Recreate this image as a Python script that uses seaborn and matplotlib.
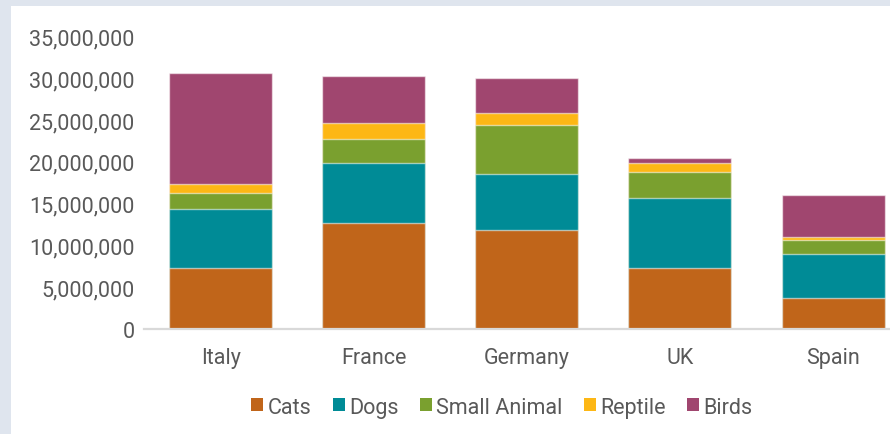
import matplotlib
matplotlib.use("Agg")
import matplotlib.pyplot as plt
from matplotlib.patches import Patch, Rectangle
from matplotlib.ticker import FuncFormatter
import numpy as np
import pandas as pd
import seaborn as sns

# Pet populations by country
countries = ["Italy", "France", "Germany", "UK", "Spain"]
series_names = ["Cats", "Dogs", "Small Animal", "Reptile", "Birds"]
cats = [7_300_000, 12_700_000, 11_800_000, 7_300_000, 3_700_000]
dogs = [7_000_000, 7_200_000, 6_700_000, 8_400_000, 5_250_000]
small_animal = [2_000_000, 2_800_000, 5_900_000, 3_100_000, 1_650_000]
reptile = [1_100_000, 2_000_000, 1_400_000, 1_100_000, 350_000]
birds = [13_200_000, 5_600_000, 4_250_000, 600_000, 5_050_000]
colors = ["#C0651A", "#008B96", "#7AA02F", "#FDB715", "#A0466F"]

sns.set_theme(style="white")
plt.rcParams["font.family"] = ["Roboto", "DejaVu Sans"]

text_color = "#595959"

df = pd.DataFrame({"country": countries, "Cats": cats, "Dogs": dogs,
                   "Small Animal": small_animal, "Reptile": reptile, "Birds": birds})
# cumulative tops for stacking
cum = df[series_names].cumsum(axis=1)
cum["country"] = df["country"]

fig = plt.figure(figsize=(8.9, 4.35), dpi=100)
fig.patch.set_facecolor("#DFE5EE")
fig.patches.append(Rectangle((11 / 890, 0), 1, 1 - 7 / 435, transform=fig.transFigure,
                             facecolor="white", edgecolor="none", zorder=-1))

ax = fig.add_axes([144.3 / 890, 1 - 329.8 / 435, 1 - 144.3 / 890, (329.8 - 37.6) / 435])
ax.set_facecolor("none")

# draw the tallest cumulative bar first so each segment sits on the one below
for name, color in reversed(list(zip(series_names, colors))):
    sns.barplot(data=cum, x="country", y=name, color=color, width=0.673,
                errorbar=None, ax=ax, edgecolor=(1, 1, 1, 0.55), linewidth=1.0,
                saturation=1)

ax.set_xlim(-0.5, (890 - 144.3) / 153.05 - 0.5)
ax.set_ylim(0, 35_000_000)
ax.set_yticks(np.arange(0, 35_000_001, 5_000_000))
ax.yaxis.set_major_formatter(FuncFormatter(lambda v, p: f"{v:,.0f}"))
ax.set_xlabel("")
ax.set_ylabel("")

for s in ["top", "right", "left"]:
    ax.spines[s].set_visible(False)
ax.spines["bottom"].set_color("#D9D9D9")
ax.spines["bottom"].set_linewidth(1.6)

ax.tick_params(axis="both", length=0, labelsize=15.5, labelcolor=text_color)
ax.tick_params(axis="x", pad=13)
ax.tick_params(axis="y", pad=7)

handles = [Patch(facecolor=c, edgecolor="none", label=n) for n, c in zip(series_names, colors)]
fig.legend(handles=handles, loc="center", bbox_to_anchor=(0.564, 0.062),
           bbox_transform=fig.transFigure, ncol=5, frameon=False,
           fontsize=15.5, labelcolor=text_color, handlelength=0.55, handleheight=0.55,
           handletextpad=0.2, columnspacing=1.0)

fig.savefig("out.png", dpi=100, facecolor=fig.get_facecolor())
